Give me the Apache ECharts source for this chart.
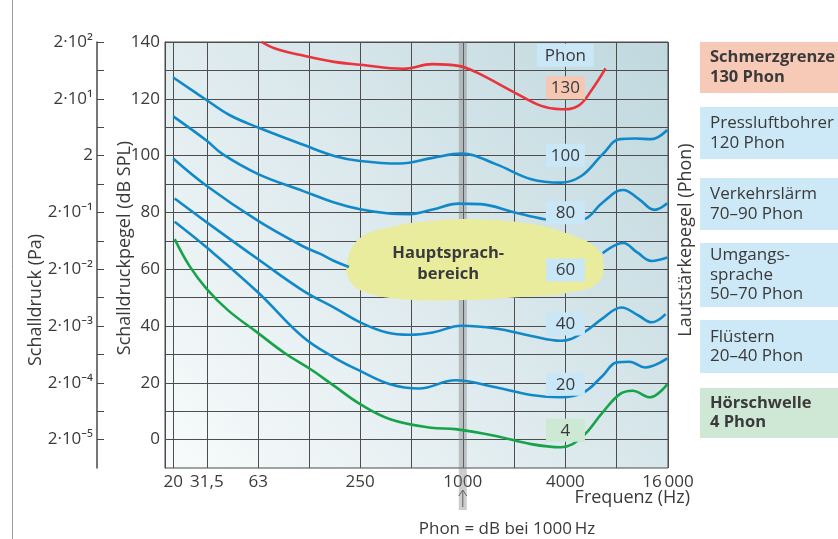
<!DOCTYPE html>
<html>
<head>
<meta charset="utf-8">
<script src="https://cdn.jsdelivr.net/npm/echarts@6/dist/echarts.min.js"></script>
<style>
html, body { margin: 0; padding: 0; background: #fff; }
#main { width: 838px; height: 539px; }
</style>
</head>
<body>
<div id="main"></div>
<script>
var FONT = '"Open Sans", "Noto Sans", sans-serif';
var TXT = '#3a3a3a';

// x axis (Hz)
var gridFreqs = [20, 31.5, 63, 125, 250, 500, 1000, 2000, 4000, 8000, 16000];
var freqLabels = [20, 31.5, 63, 250, 1000, 4000, 16000];
var freqLabelText = ['20', '31,5', '63', '250', '1000', '4000', '16\u2009000'];

// y axes
var splTicks = [0, 10, 20, 30, 40, 50, 60, 70, 80, 90, 100, 110, 120, 130, 140];
var splLabels = [0, 20, 40, 60, 80, 100, 120, 140];
var paLabels = ['2\u00b710\u207b\u2075', '2\u00b710\u207b\u2074', '2\u00b710\u207b\u00b3', '2\u00b710\u207b\u00b2',
                '2\u00b710\u207b\u00b9', '2', '2\u00b710\u00b9', '2\u00b710\u00b2'];

// Isophone [Hz, dB SPL]
var phon130 = [[66, 140], [80, 137.6], [112, 135.4], [176, 133], [250, 132], [447, 130.6], [666, 132.2],
  [944, 131.6], [1204, 129.3], [2016, 122.2], [2890, 117.5], [3766, 116.3], [4757, 117.5], [5747, 123.4], [6882, 130.7]];
var phon100 = [[20, 127.5], [31.5, 119.5], [43, 114.2], [63, 109.9], [116, 103.8], [176, 99.9], [250, 98.1],
  [428, 97.2], [666, 99.2], [984, 100.7], [1561, 97], [2521, 91.7], [3766, 90.5], [4984, 92.9], [6622, 100.5],
  [8353, 105.8], [10334, 106], [12790, 105.8], [15833, 109]];
var phon80 = [[20, 113.8], [31.5, 105.2], [39, 100.5], [63, 93.5], [116, 87.5], [176, 83.5], [250, 81.1],
  [359, 79.7], [489, 79.4], [666, 81], [944, 83.1], [1268, 82.9], [2016, 80], [3020, 77.6], [3766, 77],
  [5107, 77.6], [6622, 83.5], [8718, 87.9], [10792, 84.7], [13344, 80.9], [15833, 83.2]];
var phon60 = [[20, 99], [31.5, 89.3], [63, 77], [116, 68], [146, 65.4], [176, 62.9], [215, 60.8], [null, null],
  [6622, 65.6], [8718, 69.2], [10559, 65.9], [12790, 62.9], [15833, 64.1]];
var phon40 = [[20.4, 84.9], [31.5, 76.5], [63, 63.5], [116, 52.4], [176, 46.5], [250, 41.3], [359, 37.7],
  [489, 36.9], [666, 37.7], [984, 40.1], [1561, 39.1], [2521, 36.5], [3766, 34.8], [5107, 37.7], [6622, 42.7],
  [8530, 46.5], [10792, 43.6], [12790, 41.3], [15497, 44.2]];
var phon20 = [[20.4, 76.7], [31.5, 67.6], [63, 51.8], [116, 36], [176, 28.9], [250, 24.2], [375, 19.5],
  [554, 18], [906, 20.9], [1561, 18.4], [2521, 15.7], [3766, 14.9], [5107, 16.6], [6622, 22.5], [8000, 27.2],
  [9497, 27.4], [11744, 25.4], [15833, 28.6]];
var phon4 = [[20.4, 70.6], [25, 61], [31.5, 53], [42, 45.5], [63, 37.5], [90, 30.5], [130, 24.5], [176, 18.9], [250, 12.5],
  [375, 7.2], [650, 4.2], [906, 3.7], [1561, 1.3], [2521, -1.6], [3766, -2.7], [4984, 0.8], [6622, 9.6],
  [8353, 16], [9906, 17.2], [12518, 14.9], [15833, 19.5]];

// Hauptsprachbereich outline [Hz, dB]
var speechArea = [[209, 61.8], [246, 70.6], [375, 74.8], [626, 76.9], [1204, 77.6], [2521, 75.9], [4325, 72],
  [6169, 67.1], [6700, 61.4], [6169, 55.1], [4325, 51.9], [2205, 50.2], [906, 49.1], [428, 49.5], [270, 51.9], [220, 55.4]];
var speechCenter = [821, 61.8];

// Phon-Beschriftung bei 4000 Hz
var phonTags = ['Phon', '130', '100', '80', '60', '40', '20', '4'];
var phonTagLevel = [135.3, 123.9, 100.1, 79.9, 59.7, 40.7, 19.5, 3.3];
var phonTagColor = ['#c9e7f6', '#f6c8b4', '#c9e7f6', '#c9e7f6', '#c9e7f6', '#c9e7f6', '#c9e7f6', '#cde8d3'];

// Beispiele rechts
var examples = ['{b|Schmerzgrenze}\n{b|130 Phon}', 'Pressluftbohrer\n120 Phon', 'Verkehrslärm\n70\u201390 Phon',
  'Umgangs-\nsprache\n50\u201370 Phon', 'Flüstern\n20\u201340 Phon', '{b|Hörschwelle}\n{b|4 Phon}'];
var exampleColor = ['#f7cab7', '#cde8f6', '#cde8f6', '#cde8f6', '#cde8f6', '#cfe8d6'];
var exampleBox = [[42, 51], [107, 52], [178, 52], [243, 64], [320, 53], [388, 50]];

var BLUE = '#1189c9', RED = '#e8343c', GREEN = '#17a34a';

function nearestIdx(list, v) {
    var best = 0, bd = Infinity;
    for (var i = 0; i < list.length; i++) {
        var d = Math.abs(Math.log(list[i] / v));
        if (d < bd) { bd = d; best = i; }
    }
    return best;
}

function curve(data, color) {
    return {
        type: 'line', data: data, smooth: 0.4, showSymbol: false, connectNulls: false,
        lineStyle: { color: color, width: 2.6 }, z: 3, silent: true
    };
}

var myChart = echarts.init(document.getElementById('main'));

option = {
    animation: false,
    textStyle: { fontFamily: FONT },
    grid: {
        left: 165, right: 170, top: 42, bottom: 71,
        show: true,
        borderColor: '#4a4a4a', borderWidth: 1,
        backgroundColor: new echarts.graphic.LinearGradient(0, 1, 1, 0, [
            { offset: 0, color: '#f8fbfb' },
            { offset: 0.5, color: '#dce9ed' },
            { offset: 1, color: '#bfd8de' }
        ])
    },
    xAxis: {
        type: 'log', logBase: 10, min: 17.9, max: 16000,
        axisLine: { show: false },
        axisTick: { show: false, customValues: gridFreqs },
        splitLine: { show: true, lineStyle: { color: '#4d4d4d', width: 1 } },
        minorSplitLine: { show: false },
        axisLabel: {
            customValues: freqLabels, margin: 6,
            color: TXT, fontSize: 17, fontFamily: FONT,
            formatter: function (v) { return freqLabelText[nearestIdx(freqLabels, v)]; }
        }
    },
    yAxis: [{
        type: 'value', min: -10, max: 140,
        axisLine: { show: true, lineStyle: { color: '#4a4a4a' } },
        axisTick: { show: false, customValues: splTicks },
        splitLine: { show: true, lineStyle: { color: '#4d4d4d', width: 1 } },
        axisLabel: {
            customValues: splLabels, margin: 5,
            color: TXT, fontSize: 17, fontFamily: FONT
        }
    }, {
        type: 'value', min: -10, max: 140, position: 'left', offset: 68,
        axisLine: { show: true, lineStyle: { color: '#4a4a4a', width: 1.5 } },
        axisTick: { show: true, inside: true, length: 7, customValues: splTicks, lineStyle: { color: '#4a4a4a' } },
        splitLine: { show: false },
        axisLabel: {
            customValues: splLabels, margin: 4,
            color: TXT, fontSize: 17, fontFamily: FONT,
            formatter: function (v) { return paLabels[splLabels.indexOf(v)] || ''; }
        }
    }],
    series: [{
        type: 'custom', z: 2, silent: true,
        data: [speechCenter],
        renderItem: function (params, api) {
            var pts = speechArea.map(function (p) { return api.coord(p); });
            var c = api.coord(speechCenter);
            return {
                type: 'group',
                children: [{
                    type: 'polygon',
                    shape: { points: pts, smooth: 0.45 },
                    style: { fill: '#e9ec9d' }
                }, {
                    type: 'text',
                    x: c[0], y: c[1],
                    style: {
                        text: 'Hauptsprach-\nbereich', align: 'center', verticalAlign: 'middle',
                        font: 'bold 16.5px ' + FONT, fill: TXT, lineHeight: 21
                    }
                }]
            };
        }
    },
        curve(phon130, RED),
        curve(phon100, BLUE),
        curve(phon80, BLUE),
        curve(phon60, BLUE),
        curve(phon40, BLUE),
        curve(phon20, BLUE),
        curve(phon4, GREEN),
    {
        type: 'custom', z: 6, silent: true,
        data: phonTagLevel.map(function (v) { return [4000, v]; }),
        renderItem: function (params, api) {
            var p = api.coord([api.value(0), api.value(1)]);
            var i = params.dataIndex;
            var w = phonTags[i] === 'Phon' ? 57 : 39;
            return {
                type: 'group',
                children: [{
                    type: 'rect',
                    shape: { x: p[0] - w / 2, y: p[1] - 11.5, width: w, height: 23 },
                    style: { fill: phonTagColor[i] }
                }, {
                    type: 'text', x: p[0], y: p[1] + 0.5,
                    style: {
                        text: phonTags[i], align: 'center', verticalAlign: 'middle',
                        font: '17px ' + FONT, fill: TXT
                    }
                }]
            };
        }
    }]
};

myChart.setOption(option);

// Annotationen
var x1000 = myChart.convertToPixel({ xAxisIndex: 0 }, 1000);
var graphics = [
    { type: 'line', shape: { x1: 12.5, y1: 0, x2: 12.5, y2: 539 }, style: { stroke: '#9a9a9a', lineWidth: 1 } },
    { type: 'rect', z: 1, silent: true, shape: { x: x1000 - 4, y: 42, width: 8, height: 468 },
      style: { fill: 'rgba(120,120,120,0.38)' } },
    { type: 'polyline', shape: { points: [[x1000, 507], [x1000, 490]] }, style: { stroke: '#555', lineWidth: 1, fill: null } },
    { type: 'polyline', shape: { points: [[x1000 - 4, 496], [x1000, 490], [x1000 + 4, 496]] }, style: { stroke: '#555', lineWidth: 1, fill: null } },
    { type: 'text', x: 507, y: 529, style: { text: 'Phon = dB bei 1000\u2009Hz', align: 'center', verticalAlign: 'middle', font: '17px ' + FONT, fill: TXT } },
    { type: 'text', x: 690, y: 498, style: { text: 'Frequenz (Hz)', align: 'right', verticalAlign: 'middle', font: '18px ' + FONT, fill: TXT } },
    { type: 'text', x: 36, y: 300, rotation: Math.PI / 2, style: { text: 'Schalldruck (Pa)', align: 'center', verticalAlign: 'middle', font: '18px ' + FONT, fill: TXT } },
    { type: 'text', x: 125, y: 248, rotation: Math.PI / 2, style: { text: 'Schalldruckpegel (dB SPL)', align: 'center', verticalAlign: 'middle', font: '18px ' + FONT, fill: TXT } },
    { type: 'text', x: 686, y: 240, rotation: Math.PI / 2, style: { text: 'Lautstärkepegel (Phon)', align: 'center', verticalAlign: 'middle', font: '18px ' + FONT, fill: TXT } }
];
examples.forEach(function (t, i) {
    var b = exampleBox[i];
    graphics.push({ type: 'rect', shape: { x: 700, y: b[0], width: 140, height: b[1] }, style: { fill: exampleColor[i] } });
    graphics.push({ type: 'text', x: 710, y: b[0] + b[1] / 2, style: {
        text: t, align: 'left', verticalAlign: 'middle', fontFamily: FONT, fontSize: 17, lineHeight: 19.5, fill: TXT,
        rich: { b: { fontWeight: 'bold', fontSize: 16.5, lineHeight: 19.5, fontFamily: FONT, fill: TXT } }
    } });
});
myChart.setOption({ graphic: graphics });

window.onresize = function () {
    myChart.resize();
};
</script>
</body>
</html>
